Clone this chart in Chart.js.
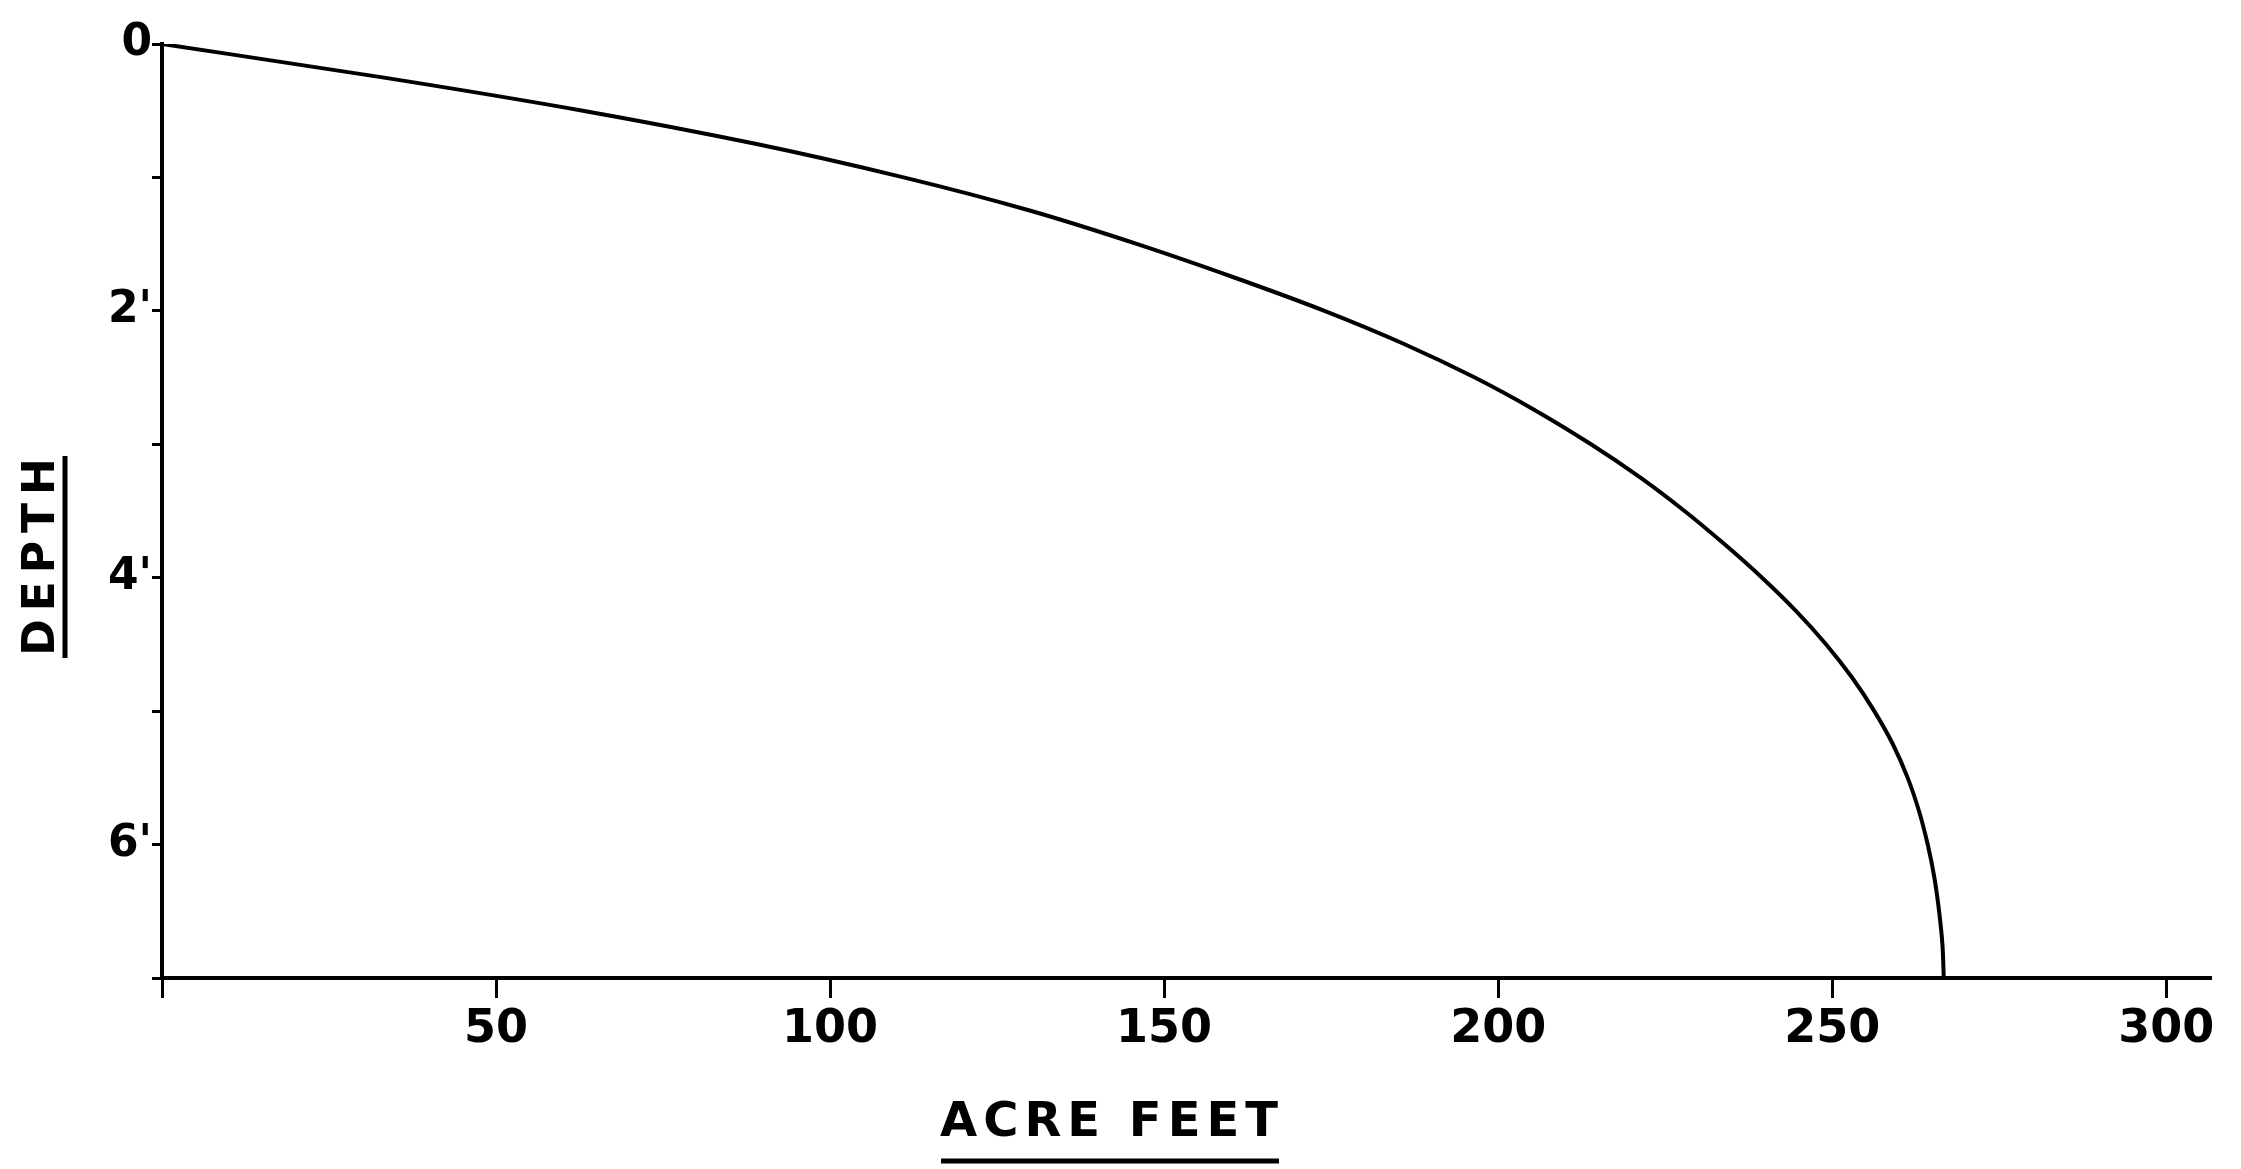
<!DOCTYPE html>
<html>
<head>
<meta charset="utf-8">
<title>Depth vs Acre Feet</title>
<script src="https://cdn.jsdelivr.net/npm/chart.js@4.4.1/dist/chart.umd.min.js"></script>
<style>
  html, body { margin: 0; padding: 0; background: #fff; }
  #wrap { width: 2241px; height: 1169px; }
</style>
</head>
<body>
<div id="wrap"><canvas id="graph" width="2241" height="1169"></canvas></div>
<script>
// Values (depth in feet, storage in acre feet)
const depthFeet = [0, 0.25, 0.5, 0.75, 1, 1.25, 1.5, 1.75, 2, 2.25, 2.5, 2.75, 3, 3.25, 3.5, 3.75,
  4, 4.25, 4.5, 4.75, 5, 5.25, 5.5, 5.75, 6, 6.25, 6.5, 6.75, 7];
const acreFeet = [0, 33, 63, 89, 111, 130, 146, 160.5, 174, 186, 196.5, 205.7, 213.9, 221.3, 227.9, 233.9,
  239.5, 244.6, 249.1, 253, 256.3, 259.1, 261.3, 263, 264.3, 265.3, 266, 266.5, 266.7];

// Axis ticks and their labels
const xTicks = [0, 50, 100, 150, 200, 250, 300];
const xTickLabels = ["", "50", "100", "150", "200", "250", "300"];
const yTicks = [0, 1, 2, 3, 4, 5, 6, 7];
const yTickLabels = ["0", "", "2'", "", "4'", "", "6'", ""];

const xTitle = "ACRE FEET";
const yTitle = "DEPTH";

const points = acreFeet.map((a, i) => ({ x: a, y: depthFeet[i] }));

// Draw the underlined axis titles
const titlePlugin = {
  id: "titles",
  afterDraw(chart) {
    const ctx = chart.ctx;
    ctx.save();
    ctx.fillStyle = "#000";
    ctx.strokeStyle = "#000";
    ctx.textAlign = "center";
    ctx.textBaseline = "middle";

    // x title
    ctx.font = "bold 48px 'DejaVu Sans'";
    ctx.letterSpacing = "6px";
    ctx.fillText(xTitle, 1112, 1124);
    ctx.lineWidth = 5;
    ctx.beginPath();
    ctx.moveTo(941, 1161);
    ctx.lineTo(1279, 1161);
    ctx.stroke();

    // y title, rotated
    ctx.translate(43, 557);
    ctx.rotate(-Math.PI / 2);
    ctx.font = "bold 44px 'DejaVu Sans'";
    ctx.letterSpacing = "8px";
    ctx.fillText(yTitle, 4, 0);
    ctx.beginPath();
    ctx.moveTo(-101, 22);
    ctx.lineTo(101, 22);
    ctx.stroke();
    ctx.restore();
  }
};

const context = document.getElementById("graph").getContext("2d");
const chart = new Chart(context, {
  type: "scatter",
  data: {
    datasets: [
      {
        data: points,
        showLine: true,
        borderColor: "#000",
        borderWidth: 4,
        pointRadius: 0,
        cubicInterpolationMode: "monotone",
        fill: false
      }
    ]
  },
  options: {
    indexAxis: "y",
    responsive: false,
    animation: false,
    devicePixelRatio: 1,
    layout: { padding: { top: 44, right: 30, left: 0, bottom: 0 } },
    plugins: { legend: { display: false }, tooltip: { enabled: false } },
    scales: {
      x: {
        type: "linear",
        min: 0,
        max: 306.7,
        afterBuildTicks: (s) => { s.ticks = xTicks.map((v) => ({ value: v })); },
        afterFit: (s) => { s.height = 191; },
        border: { display: true, color: "#000", width: 4 },
        grid: { drawOnChartArea: false, drawTicks: true, tickLength: 20, tickColor: "#000", tickWidth: 3 },
        ticks: {
          color: "#000",
          padding: 4,
          maxRotation: 0,
          font: { family: "'DejaVu Sans'", size: 46, weight: "bold" },
          callback: (v) => xTickLabels[xTicks.indexOf(v)]
        }
      },
      y: {
        type: "linear",
        min: 0,
        max: 7,
        reverse: true,
        afterBuildTicks: (s) => { s.ticks = yTicks.map((v) => ({ value: v })); },
        afterFit: (s) => { s.width = 162; },
        border: { display: true, color: "#000", width: 4 },
        grid: { drawOnChartArea: false, drawTicks: true, tickLength: 10, tickColor: "#000", tickWidth: 3 },
        ticks: {
          color: "#000",
          padding: 0,
          font: { family: "'DejaVu Sans'", size: 44, weight: "bold" },
          callback: (v) => yTickLabels[yTicks.indexOf(v)]
        }
      }
    }
  },
  plugins: [titlePlugin]
});
</script>
</body>
</html>
